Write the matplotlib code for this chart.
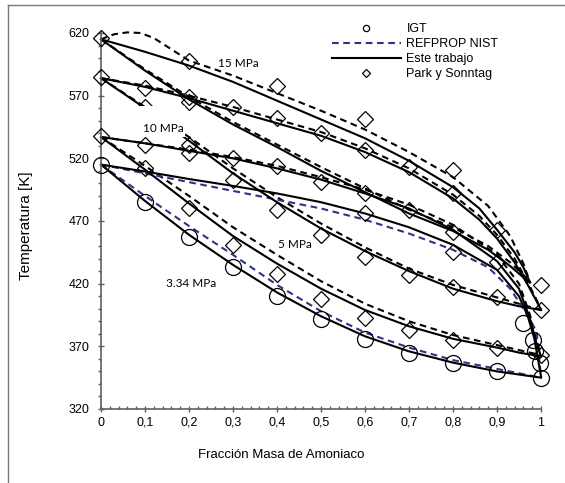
import numpy as np
import matplotlib
matplotlib.use("Agg")
import matplotlib.pyplot as plt
from matplotlib.lines import Line2D
from matplotlib.patches import Rectangle
from matplotlib.ticker import MultipleLocator

plt.rcParams["font.family"] = ["Liberation Sans", "DejaVu Sans"]

# IGT data (3.34 MPa): bubble points, then dew points close to pure ammonia
igt_x = [0, 0.1, 0.2, 0.3, 0.4, 0.5, 0.6, 0.7, 0.8, 0.9, 1.0,
         0.958, 0.982, 0.986, 0.998]
igt_t = [515, 485, 457, 433, 410, 392, 376, 365, 357, 350, 345,
         389, 375, 366, 357]

# Park y Sonntag data (5, 10 and 15 MPa)
park_x = [0, 0, 0,
          0.1, 0.1, 0.1, 0.1,
          0.2, 0.2, 0.2, 0.2, 0.2, 0.2,
          0.3, 0.3, 0.3, 0.3,
          0.4, 0.4, 0.4, 0.4, 0.4,
          0.5, 0.5, 0.5, 0.5,
          0.6, 0.6, 0.6, 0.6, 0.6, 0.6,
          0.7, 0.7, 0.7, 0.7,
          0.8, 0.8, 0.8, 0.8, 0.8, 0.8,
          0.9, 0.9, 0.9, 0.9,
          1.0, 1.0, 1.0]
park_t = [616, 585, 538,
          576, 561, 531, 512,
          598, 569, 565, 531, 524, 480,
          561, 520, 503, 451,
          578, 552, 514, 479, 428,
          540, 501, 459, 408,
          551, 527, 492, 476, 441, 393,
          513, 479, 427, 383,
          511, 492, 461, 445, 417, 375,
          463, 437, 409, 369,
          419, 399, 363]

# 3.34 MPa
x334_bub = [0, 0.1, 0.2, 0.3, 0.4, 0.5, 0.6, 0.7, 0.8, 0.9, 1.0]
t334_bub = [515, 486, 459, 435, 413, 394, 378, 366, 357, 350, 345]
t334_bub_ref = [515, 490, 466, 443, 419, 398, 381, 369, 359, 352, 345]
x334_dew = [0, 0.1, 0.2, 0.3, 0.4, 0.5, 0.6, 0.7, 0.8, 0.9, 0.95, 0.97, 0.985, 1.0]
t334_dew = [515, 509.5, 503.5, 498, 492, 485, 476, 465, 451, 431, 410, 394, 376, 346]
x334_dew_ref = [0, 0.1, 0.2, 0.3, 0.4, 0.5, 0.6, 0.7, 0.8, 0.88, 0.93, 0.96, 0.99, 1.0]
t334_dew_ref = [515, 508, 501, 494, 487, 480, 471, 460, 447, 433, 416, 400, 382, 345]

# 5 MPa
x5_bub = [0, 0.1, 0.2, 0.3, 0.4, 0.5, 0.6, 0.7, 0.8, 0.9, 0.95, 1.0]
t5_bub = [537, 511, 484, 458, 436, 416, 399, 386, 376, 369, 365, 362]
t5_bub_ref = [537, 514, 490, 465, 443, 422, 404, 390, 379, 371, 367, 363]
x5_dew = [0, 0.1, 0.2, 0.3, 0.4, 0.5, 0.6, 0.7, 0.8, 0.9, 0.95, 0.975, 0.99, 1.0]
t5_dew = [537, 532, 526, 520, 512, 503, 492, 480, 463, 438, 416, 392, 372, 362]
t5_dew_ref = [537, 532, 527, 521, 514, 505, 495, 483, 467, 443, 420, 395, 374, 363]

# 10 MPa
x10_bub = [0, 0.1, 0.2, 0.3, 0.4, 0.5, 0.6, 0.7, 0.8, 0.9, 0.95, 1.0]
t10_bub = [584, 560, 534, 508, 485, 464, 446, 430, 416, 406, 402, 399]
t10_bub_ref = [584, 561, 537, 512, 489, 468, 449, 432, 419, 409, 404, 399]
x10_dew = [0, 0.1, 0.2, 0.3, 0.4, 0.5, 0.6, 0.7, 0.8, 0.86, 0.9, 0.94, 0.97, 0.99, 1.0]
t10_dew = [584, 577, 568, 558, 548, 538, 525, 509, 488, 471, 456, 437, 419, 406, 399]
t10_dew_ref = [584, 578, 570, 561, 551, 541, 528, 512, 491, 474, 459, 440, 421, 407, 399]

# 15 MPa
x15_bub = [0, 0.1, 0.2, 0.3, 0.4, 0.5, 0.6, 0.7, 0.8, 0.88, 0.93, 0.96, 0.975]
t15_bub = [615, 590, 567, 547, 529, 510, 493, 476, 462, 447, 434, 425, 421]
t15_bub_ref = [615, 591, 569, 549, 531, 513, 496, 479, 465, 450, 437, 427, 421]
x15_dew = [0, 0.1, 0.2, 0.3, 0.4, 0.5, 0.6, 0.7, 0.8, 0.86, 0.9, 0.94, 0.96, 0.975]
t15_dew = [615, 605, 594, 581, 566, 551, 536, 518, 497, 480, 463, 445, 433, 421]
x15_dew_ref = [0, 0.03, 0.06, 0.09, 0.12, 0.16, 0.2, 0.25, 0.3, 0.4, 0.5, 0.6, 0.7,
               0.8, 0.88, 0.93, 0.96, 0.975]
t15_dew_ref = [615, 619, 620.5, 620, 616, 607, 598, 592, 586, 572, 558, 543, 525,
               505, 482, 458, 436, 421]

x_ticks = [0, 0.1, 0.2, 0.3, 0.4, 0.5, 0.6, 0.7, 0.8, 0.9, 1.0]
x_tick_labels = ["0", "0,1", "0,2", "0,3", "0,4", "0,5", "0,6", "0,7", "0,8", "0,9", "1"]
y_ticks = [320, 370, 420, 470, 520, 570, 620]

NAVY = "#2b3486"
DASH = (0, (3.2, 2.2))
LW = 1.5

fig = plt.figure(figsize=(5.65, 4.83), dpi=100)
ax = fig.add_axes([101 / 565, 1 - 409 / 483, 440 / 565, 376 / 483])

# model curves: solid = este trabajo, dashed = reference equations
solid = [(x334_bub, t334_bub), (x334_dew, t334_dew),
         (x5_bub, t5_bub), (x5_dew, t5_dew),
         (x10_bub, t10_bub), (x10_dew, t10_dew),
         (x15_bub, t15_bub), (x15_dew, t15_dew)]
dashed_black = [(x5_bub, t5_bub_ref), (x5_dew, t5_dew_ref),
                (x10_bub, t10_bub_ref), (x10_dew, t10_dew_ref),
                (x15_bub, t15_bub_ref), (x15_dew_ref, t15_dew_ref)]
dashed_navy = [(x334_bub, t334_bub_ref), (x334_dew_ref, t334_dew_ref)]

for xs, ts in dashed_black:
    ax.plot(xs, ts, color="black", lw=LW, ls=DASH, clip_on=False, zorder=2)
for xs, ts in dashed_navy:
    ax.plot(xs, ts, color=NAVY, lw=LW, ls=DASH, clip_on=False, zorder=2)
for xs, ts in solid:
    ax.plot(xs, ts, color="black", lw=LW, clip_on=False, zorder=2.5)

ax.plot(igt_x, igt_t, ls="none", marker="o", ms=11.5, mfc="none", mec="black",
        mew=0.9, clip_on=False, zorder=3)
ax.plot(park_x, park_t, ls="none", marker="D", ms=8, mfc="none", mec="black",
        mew=0.9, clip_on=False, zorder=3)

# pressure labels
label_font = dict(family=["Lato", "DejaVu Sans"], fontsize=8.5, zorder=6)
ax.add_patch(Rectangle((0.08, 537), 0.11, 25, facecolor="white", edgecolor="none", zorder=5))
ax.text(0.266, 596, "15 MPa", ha="left", va="center", **label_font)
ax.text(0.095, 544, "10 MPa", ha="left", va="center", **label_font)
ax.text(0.402, 451, "5 MPa", ha="left", va="center",
        bbox=dict(facecolor="white", edgecolor="none", pad=0.5), **label_font)
ax.text(0.148, 420.5, "3.34 MPa", ha="left", va="center", **label_font)

ax.set_xlim(0, 1)
ax.set_ylim(320, 620)
ax.set_xticks(x_ticks)
ax.set_xticklabels(x_tick_labels)
ax.set_yticks(y_ticks)
ax.xaxis.set_minor_locator(MultipleLocator(0.02))
ax.yaxis.set_minor_locator(MultipleLocator(10))

axis_color = "#5f5f5f"
for side in ["top", "right"]:
    ax.spines[side].set_visible(False)
for side in ["left", "bottom"]:
    ax.spines[side].set_color(axis_color)
    ax.spines[side].set_linewidth(1.2)
ax.tick_params(axis="both", which="major", labelsize=9, color=axis_color, width=1,
               length=4.8, direction="inout")
ax.tick_params(axis="x", which="major", pad=3)
ax.tick_params(axis="y", which="major", pad=6)
ax.tick_params(axis="x", which="minor", direction="in", length=2.4, color=axis_color, width=1)
ax.tick_params(axis="y", which="minor", direction="out", length=2.4, color=axis_color, width=1)

ax.set_xlabel("Fracción Masa de Amoniaco", fontsize=9.5)
ax.set_ylabel("Temperatura [K]", fontsize=11)
ax.xaxis.set_label_coords(0.409, -0.106)
ax.yaxis.set_label_coords(-0.1545, 0.487)

handles = [
    Line2D([], [], ls="none", marker="o", ms=4.5, mfc="none", mec="black", mew=0.9),
    Line2D([], [], color=NAVY, lw=LW, ls=DASH),
    Line2D([], [], color="black", lw=LW),
    Line2D([], [], ls="none", marker="D", ms=4, mfc="none", mec="black", mew=0.9),
]
labels = ["IGT", "REFPROP NIST", "Este trabajo", "Park y Sonntag"]
fig.legend(handles, labels, loc="upper left", bbox_to_anchor=(332 / 565, 1 - 23 / 483),
           frameon=False, fontsize=9, handlelength=5.5, handletextpad=0.45,
           labelspacing=0.25, borderpad=0, borderaxespad=0)

# outline along the top and left edges of the figure
frame_color = "#7a7a7a"
fig.add_artist(Line2D([8 / 565, 1], [1 - 5 / 483, 1 - 5 / 483], transform=fig.transFigure,
                      color=frame_color, lw=1))
fig.add_artist(Line2D([8 / 565, 8 / 565], [0, 1 - 5 / 483], transform=fig.transFigure,
                      color=frame_color, lw=1))

fig.savefig("out.png", dpi=100)
